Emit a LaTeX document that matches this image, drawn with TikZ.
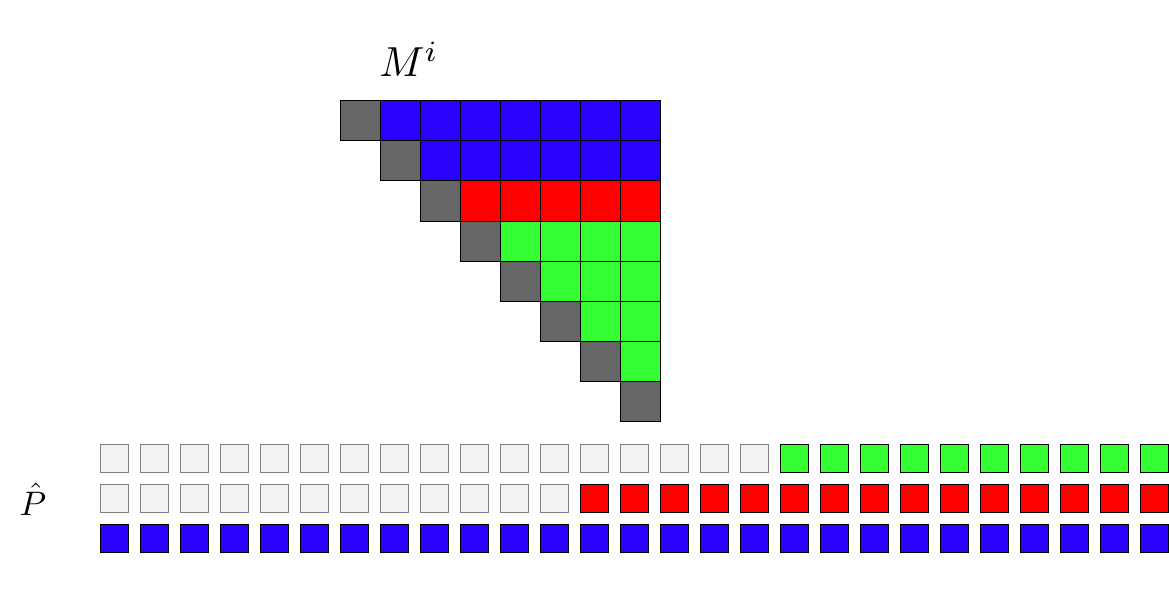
\documentclass[tikz,border=0pt]{standalone}
\definecolor{cblue}{RGB}{42,0,255}
\definecolor{cred}{RGB}{255,0,0}
\definecolor{cgreen}{RGB}{51,255,51}
\definecolor{cgray}{RGB}{102,102,102}
\definecolor{clight}{RGB}{243,243,243}
\definecolor{cedge}{RGB}{128,128,128}
\begin{document}
\begin{tikzpicture}[x=1pt,y=-1pt,
  cell/.style={draw=black,line width=1pt,minimum size=40pt,inner sep=0pt,outer sep=0pt},
  sq/.style={draw=black,line width=1pt,minimum size=28pt,inner sep=0pt,outer sep=0pt},
  sqempty/.style={draw=cedge,line width=1pt,fill=clight,minimum size=28pt,inner sep=0pt,outer sep=0pt}]
\useasboundingbox (0,0) rectangle (1169,596);
% matrix
\foreach \r in {0,...,7}{
  \foreach \c in {\r,...,7}{
    \pgfmathtruncatemacro{\d}{\c-\r}
    \ifnum\d=0
      \def\col{cgray}
    \else
      \ifnum\r<2 \def\col{cblue}\else
        \ifnum\r=2 \def\col{cred}\else \def\col{cgreen}\fi
      \fi
    \fi
    \node[cell,fill=\col] (m-\r-\c) at (360+40*\c,121+40*\r) {};
  }
}
\node[anchor=base,inner sep=0pt,scale=4.2] (mlabel) at (409,77) {$M^i$};
% P hat rows
\foreach \k in {0,...,26}{
  \ifnum\k<17
    \node[sqempty] (p0-\k) at (114+40*\k,458) {};
  \else
    \node[sq,fill=cgreen] (p0-\k) at (114+40*\k,458) {};
  \fi
  \ifnum\k<12
    \node[sqempty] (p1-\k) at (114+40*\k,498) {};
  \else
    \node[sq,fill=cred] (p1-\k) at (114+40*\k,498) {};
  \fi
  \node[sq,fill=cblue] (p2-\k) at (114+40*\k,538) {};
}
\node[anchor=base,inner sep=0pt,scale=3.4] (plabel) at (33,515) {$\hat P$};
\end{tikzpicture}
\end{document}
